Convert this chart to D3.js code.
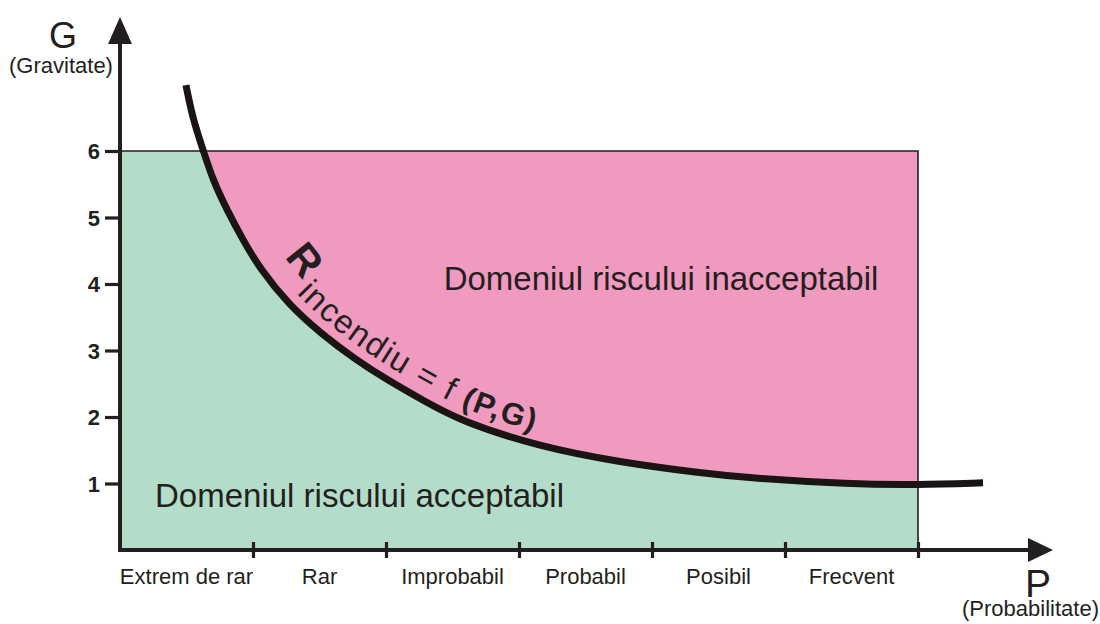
<!DOCTYPE html>
<html>
<head>
<meta charset="utf-8">
<script src="https://cdn.jsdelivr.net/npm/d3@7/dist/d3.min.js"></script>
<style>
  html, body { margin: 0; padding: 0; background: #fff; }
  svg { display: block; font-family: "Liberation Sans", Arial, sans-serif; }
</style>
</head>
<body>
<svg id="chart" width="1100" height="624"></svg>
<script>
// ---- data ----
const categories = ["Extrem de rar", "Rar", "Improbabil", "Probabil", "Posibil", "Frecvent"];
const gravityTicks = [1, 2, 3, 4, 5, 6];
const curveP = [0.496, 0.549, 0.624, 0.699, 0.805, 0.925, 1.053, 1.263, 1.519, 1.767, 2.015, 2.271, 2.556, 3.158, 3.759, 4.361, 4.737, 5.489, 5.992, 6.489];
const curveG = [6.99, 6.47, 6.02, 5.56, 5.11, 4.66, 4.23, 3.70, 3.24, 2.87, 2.55, 2.26, 1.94, 1.55, 1.32, 1.16, 1.08, 0.99, 0.98, 1.01];
const domainMaxP = 6;   // rectangle limit
const domainMaxG = 6;

const svg = d3.select("#chart");
const ink = "#231f20";
const pink = "#f19abf";
const green = "#b4ddc9";

const x = d3.scaleLinear().domain([0, 6]).range([120, 918]);
const y = d3.scaleLinear().domain([0, 6]).range([550, 151]);

const curvePts = curveP.map((p, i) => [p, curveG[i]]);
const line = d3.line().x(d => x(d[0])).y(d => y(d[1])).curve(d3.curveBasis);

// clip to rectangle
svg.append("defs").append("clipPath").attr("id", "rectClip")
  .append("rect")
  .attr("x", x(0)).attr("y", y(domainMaxG))
  .attr("width", x(domainMaxP) - x(0)).attr("height", y(0) - y(domainMaxG));

// pink rectangle (unacceptable)
svg.append("rect")
  .attr("x", x(0)).attr("y", y(domainMaxG))
  .attr("width", x(domainMaxP) - x(0)).attr("height", y(0) - y(domainMaxG))
  .attr("fill", pink);

// green area below curve (acceptable)
const curveStr = line(curvePts);
const last = curvePts[curvePts.length - 1];
const greenPath = curveStr +
  `L${x(last[0])},${y(0)}L${x(0)},${y(0)}L${x(0)},${y(curvePts[0][1])}Z`;
svg.append("path")
  .attr("d", greenPath)
  .attr("fill", green)
  .attr("clip-path", "url(#rectClip)");

// rectangle top and right border
svg.append("path")
  .attr("d", `M${x(0)},${y(domainMaxG)}H${x(domainMaxP)}V${y(0)}`)
  .attr("fill", "none").attr("stroke", ink).attr("stroke-width", 1.6);

// Y axis
const yAxis = d3.axisLeft(y).tickValues(gravityTicks).tickSize(15).tickPadding(5).tickFormat(d3.format("d"));
const gy = svg.append("g").attr("transform", `translate(${x(0)},0)`).call(yAxis);
gy.select(".domain").remove();
gy.selectAll(".tick line").attr("stroke", ink).attr("stroke-width", 3.2);
gy.selectAll(".tick text").attr("fill", ink).attr("font-size", 22).attr("font-weight", "bold")
  .attr("dy", "0.36em");

// X axis ticks
const xAxis = d3.axisBottom(x).tickValues([1, 2, 3, 4, 5, 6]).tickSize(0).tickFormat("");
const gx = svg.append("g").attr("transform", `translate(0,${y(0)})`).call(xAxis);
gx.select(".domain").remove();
gx.selectAll(".tick").append("line")
  .attr("y1", -8).attr("y2", 8).attr("stroke", ink).attr("stroke-width", 3.2);

// category labels between ticks
svg.append("g").selectAll("text").data(categories).join("text")
  .attr("x", (d, i) => x(i + 0.5))
  .attr("y", 584)
  .attr("text-anchor", "middle")
  .attr("font-size", 22)
  .attr("fill", ink)
  .text(d => d);

// axis lines with arrows
svg.append("line").attr("x1", x(0)).attr("y1", y(0) + 2).attr("x2", x(0)).attr("y2", 40)
  .attr("stroke", ink).attr("stroke-width", 4);
svg.append("path").attr("d", `M${x(0)},17L${x(0) - 12},44L${x(0) + 12},44Z`).attr("fill", ink);
svg.append("line").attr("x1", x(0) - 2).attr("y1", y(0)).attr("x2", 1032).attr("y2", y(0))
  .attr("stroke", ink).attr("stroke-width", 4);
svg.append("path").attr("d", `M1053,${y(0)}L1028,${y(0) - 12}L1028,${y(0) + 12}Z`).attr("fill", ink);

// axis titles
svg.append("text").attr("x", 63).attr("y", 48).attr("text-anchor", "middle")
  .attr("font-size", 36).attr("fill", ink).text("G");
svg.append("text").attr("x", 61).attr("y", 73).attr("text-anchor", "middle")
  .attr("font-size", 22).attr("fill", ink).text("(Gravitate)");
svg.append("text").attr("x", 1038).attr("y", 597).attr("text-anchor", "middle")
  .attr("font-size", 39).attr("fill", ink).text("P");
svg.append("text").attr("x", 1099).attr("y", 616).attr("text-anchor", "end")
  .attr("font-size", 22).attr("fill", ink).text("(Probabilitate)");

// domain labels
svg.append("text").attr("x", 661).attr("y", 290).attr("text-anchor", "middle")
  .attr("font-size", 33).attr("fill", ink).text("Domeniul riscului inacceptabil");
svg.append("text").attr("x", 155).attr("y", 507)
  .attr("font-size", 33).attr("fill", ink).text("Domeniul riscului acceptabil");

// curve
const curvePath = svg.append("path")
  .attr("id", "riskCurve")
  .attr("d", curveStr)
  .attr("fill", "none")
  .attr("stroke", "#1a1414")
  .attr("stroke-width", 7)
  .attr("stroke-linecap", "butt");

// label along curve
const node = curvePath.node();
const total = node.getTotalLength();
let startLen = 0;
for (let l = 0; l < total; l += 1) {
  if (node.getPointAtLength(l).x >= 264) { startLen = l; break; }
}
const label = svg.append("text").attr("fill", ink);
const tp = label.append("textPath").attr("href", "#riskCurve").attr("startOffset", startLen);
tp.append("tspan").attr("font-size", 42).attr("font-weight", "bold").attr("dy", -26).text("R");
tp.append("tspan").attr("font-size", 33).attr("letter-spacing", 2).attr("dx", 7).attr("dy", 14).text("incendiu = f ");
tp.append("tspan").attr("font-size", 31).attr("font-weight", "bold").attr("letter-spacing", 2).attr("dy", 0).text("(P,G)");
</script>
</body>
</html>
